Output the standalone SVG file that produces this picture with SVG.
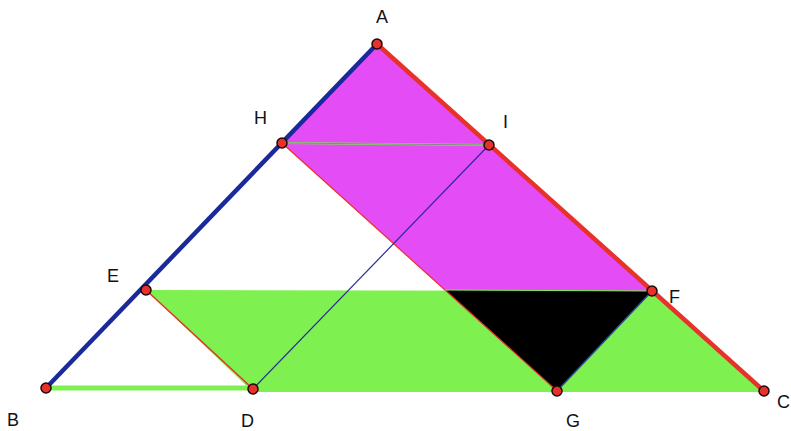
<svg xmlns="http://www.w3.org/2000/svg" width="791" height="431" viewBox="0 0 791 431">
<style>
.pt{fill:#e8312a;stroke:#1a0a0a;stroke-width:1.5}
.lbl{font-family:"Liberation Sans",Arial,sans-serif;font-size:18px;fill:#111}
</style>
<rect width="791" height="431" fill="#fff"/>
<g id="regions">
<polygon points="377,44 282,143 445,290 652,291" fill="#e44cf5"/>
<polygon points="146,290 652,291 764,392 253,392" fill="#7ef04f"/>
<polygon points="445,290 652,291 557,391" fill="#000"/>
</g>
<g id="connectors" fill="none">
<line x1="46" y1="388" x2="253" y2="388" stroke="#7ef04f" stroke-width="5"/>
<line x1="282" y1="143" x2="489" y2="145" stroke="#7ef04f" stroke-width="2"/>
<line x1="282" y1="143" x2="489" y2="145" stroke="#888" stroke-width="1"/>
<line x1="282" y1="143" x2="557" y2="391" stroke="#e8312a" stroke-width="1.2"/>
<line x1="146" y1="290" x2="253" y2="389" stroke="#e8312a" stroke-width="1.5"/>
<line x1="489" y1="145" x2="253" y2="389" stroke="#2a2a9a" stroke-width="1.2"/>
<line x1="652" y1="291" x2="557" y2="391" stroke="#2a4a9a" stroke-width="1.5"/>
<line x1="445" y1="290" x2="652" y2="291" stroke="#7ef04f" stroke-width="1"/>
<line x1="377" y1="44" x2="46" y2="388" stroke="#1a2a9a" stroke-width="4.5"/>
<line x1="377" y1="44" x2="764" y2="391" stroke="#e8312a" stroke-width="4.5"/>
</g>
<g id="A"><circle class="pt" cx="377" cy="44" r="5"/><text class="lbl" x="376" y="23">A</text></g>
<g id="H"><circle class="pt" cx="282" cy="143" r="5"/><text class="lbl" x="254" y="124">H</text></g>
<g id="I"><circle class="pt" cx="489" cy="145" r="5"/><text class="lbl" x="503" y="128">I</text></g>
<g id="E"><circle class="pt" cx="146" cy="290" r="5"/><text class="lbl" x="107" y="282">E</text></g>
<g id="F"><circle class="pt" cx="652" cy="291" r="5"/><text class="lbl" x="669" y="303">F</text></g>
<g id="B"><circle class="pt" cx="46" cy="388" r="5"/><text class="lbl" x="7" y="426">B</text></g>
<g id="D"><circle class="pt" cx="253" cy="389" r="5"/><text class="lbl" x="241" y="427">D</text></g>
<g id="G"><circle class="pt" cx="557" cy="391" r="5"/><text class="lbl" x="566" y="427">G</text></g>
<g id="C"><circle class="pt" cx="764" cy="391" r="5"/><text class="lbl" x="777" y="408">C</text></g>
</svg>
